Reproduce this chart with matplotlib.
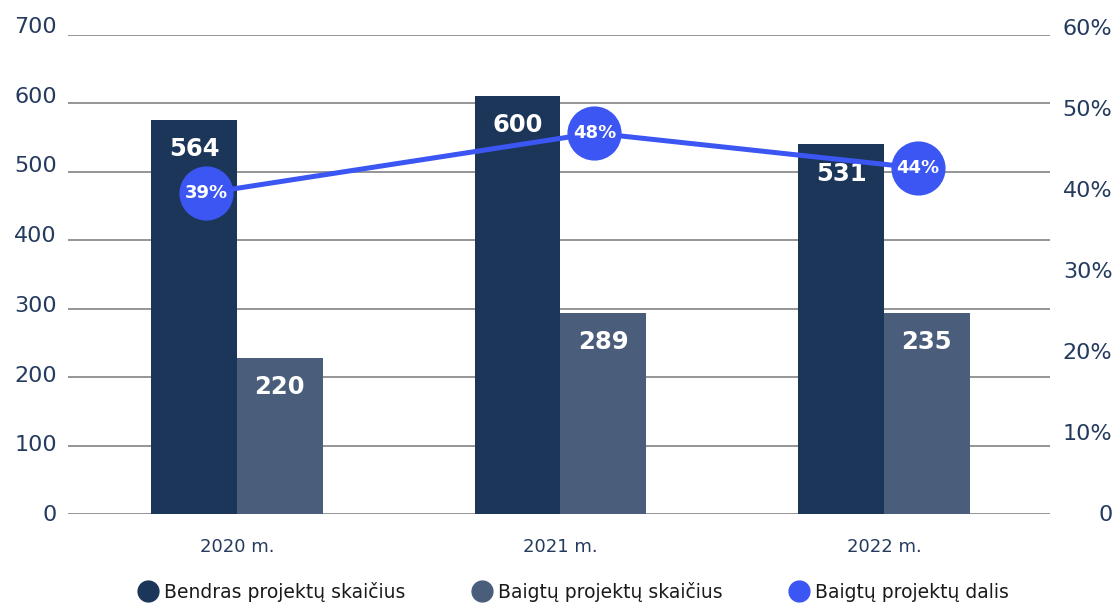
import numpy as np
import matplotlib.pyplot as plt
from matplotlib.lines import Line2D

plt.rcParams["font.family"] = ["DejaVu Sans"]

# data
years = ["2020 m.", "2021 m.", "2022 m."]
total_projects = [576, 611, 540]        # bar heights as drawn
finished_projects = [228, 294, 294]
total_labels = ["564", "600", "531"]
finished_labels = ["220", "289", "235"]
share_pct = [39.5, 46.9, 42.6]           # circle positions as drawn
share_labels = ["39%", "48%", "44%"]

left_ticks = [0, 100, 200, 300, 400, 500, 600, 700]
right_ticks = [0, 10, 20, 30, 40, 50, 60]

dark = "#1c365a"
grey = "#4a5e7c"
blue = "#3b56f2"
txt = "#243a5e"

W, H = 1119, 603
fig = plt.figure(figsize=(W / 100, H / 100), dpi=100)


def box(l, t, r, b):
    return [l / W, (H - b) / H, (r - l) / W, (b - t) / H]


x = np.arange(len(years))
xlim = (-0.522, 2.513)
bw = 0.265

# main axes: bars + grid
ax = fig.add_axes(box(68, 35, 1050, 514))
ax.set_xlim(xlim)
ax.set_ylim(0, 700)
for v in left_ticks:
    ax.axhline(v, color="#8c8c8c", lw=1.3, zorder=0)
b1 = ax.bar(x - bw / 2, total_projects, bw, color=dark, zorder=2)
b2 = ax.bar(x + bw / 2, finished_projects, bw, color=grey, zorder=2)
for bars, labs in ((b1, total_labels), (b2, finished_labels)):
    for r, lab in zip(bars, labs):
        ax.annotate(lab, (r.get_x() + r.get_width() / 2, r.get_height()),
                    xytext=(0, -21), textcoords="offset points",
                    ha="center", va="center", color="white",
                    fontsize=17.5, fontweight="bold", zorder=5)
ax.set_yticks([])
ax.set_xticks(x)
ax.set_xticklabels(years, fontsize=13, color=txt)
ax.tick_params(axis="x", length=0, pad=17)
for s in ax.spines.values():
    s.set_visible(False)

# left value labels (stretched slightly against the grid, as in the source)
axl = fig.add_axes(box(68, 25, 1050, 513), frameon=False)
axl.set_ylim(0, 700)
axl.set_xlim(xlim)
axl.set_xticks([])
axl.set_yticks(left_ticks)
axl.set_yticklabels([str(v) for v in left_ticks], fontsize=16, color=txt)
axl.tick_params(axis="y", length=0, pad=8)
axl.patch.set_visible(False)

# right percentage axis + line
axr = fig.add_axes(box(68, 27, 1050, 513), frameon=False)
axr.set_xlim(xlim)
axr.set_ylim(0, 60)
axr.set_xticks([])
axr.yaxis.tick_right()
axr.set_yticks(right_ticks)
axr.set_yticklabels(["0"] + [f"{v}%" for v in right_ticks[1:]],
                    fontsize=16, color=txt, ha="right")
axr.tick_params(axis="y", length=0, pad=45)
axr.patch.set_visible(False)
line_x = [-0.095, 1.105, 2.105]
axr.plot(line_x, share_pct, color=blue, lw=3.6, marker="o", ms=38,
         mfc=blue, mec=blue, zorder=6, clip_on=False)
for xx, yy, lab in zip(line_x, share_pct, share_labels):
    axr.text(xx, yy, lab, ha="center", va="center", color="white",
             fontsize=13, fontweight="bold", zorder=7)

handles = [
    Line2D([], [], ls="", marker="o", ms=15, color=dark),
    Line2D([], [], ls="", marker="o", ms=15, color=grey),
    Line2D([], [], ls="", marker="o", ms=15, color=blue),
]
fig.legend(handles, ["Bendras projektų skaičius", "Baigtų projektų skaičius",
                     "Baigtų projektų dalis"],
           loc="center", bbox_to_anchor=(0.512, 1 - 592 / H), ncol=3,
           frameon=False, fontsize=13.5, handletextpad=0.25, columnspacing=3.5,
           handlelength=1.2, labelcolor="#1a1a1a")

fig.savefig("out.png", dpi=100)
